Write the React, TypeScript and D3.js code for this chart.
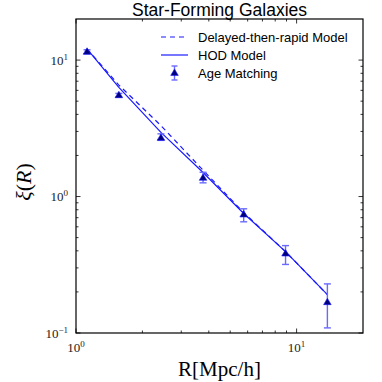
import React from 'react';
import * as d3 from 'd3';

// values
const radius = [1.122, 1.564, 2.427, 3.767, 5.757, 8.91, 13.79];
const ageMatching = [11.5, 5.52, 2.69, 1.37, 0.738, 0.382, 0.168];
const errLow = [11.1, 5.35, 2.58, 1.26, 0.653, 0.318, 0.109];
const errHigh = [11.9, 5.7, 2.88, 1.506, 0.813, 0.437, 0.229];
const hodModel = [12.1, 6.3, 2.95, 1.5, 0.751, 0.395, 0.191];
const delayedModel = [12.1, 6.56, 3.31, 1.56, 0.763, 0.395, 0.191];

const xMajor = [1, 10];
const xMajorExp = ['0', '1'];
const yMajor = [0.1, 1, 10];
const yMajorExp = ['\u22121', '0', '1'];

const W = 382;
const H = 382;
const margin = { top: 19, right: 19, bottom: 49, left: 76 };

const serif = '"Liberation Serif", "DejaVu Serif", serif';
const sans = '"Liberation Sans", Arial, sans-serif';

const App = () => {
  const x = d3.scaleLog().domain([1, 20]).range([margin.left, W - margin.right]);
  const y = d3.scaleLog().domain([0.1, 20]).range([H - margin.bottom, margin.top]);

  const x0 = margin.left;
  const x1 = W - margin.right;
  const y0 = H - margin.bottom;
  const y1 = margin.top;

  const pts = (vals: number[]) => radius.map((r, i) => [r, vals[i]] as [number, number]);
  const line = d3.line<[number, number]>().x((d) => x(d[0])).y((d) => y(d[1]));

  // minor ticks
  const xMinor: number[] = [];
  for (let k = 2; k <= 9; k++) xMinor.push(k, k * 10);
  const xMinorIn = xMinor.filter((v) => v < 20);
  const yMinor: number[] = [];
  for (let k = 2; k <= 9; k++) yMinor.push(k / 10, k, k * 10);
  const yMinorIn = yMinor.filter((v) => v < 20);

  const tri = (cx: number, cy: number, s: number) =>
    `M${cx},${cy - s} L${cx + s * 0.95},${cy + s * 0.6} L${cx - s * 0.95},${cy + s * 0.6} Z`;

  const blue = '#1a1aff';
  const errColor = '#6a6aff';
  const navy = '#00007a';

  return (
    <svg width={W} height={H} style={{ position: 'absolute', left: 0, top: 0, background: '#fff' }}>
      {/* title */}
      <text x={(x0 + x1) / 2} y={15.5} textAnchor="middle" fontFamily={sans} fontSize={17.5}>
        Star-Forming Galaxies
      </text>

      {/* ticks */}
      <g stroke="#000" strokeWidth={0.8}>
        {xMajor.map((v) => (
          <g key={'xm' + v}>
            <line x1={x(v)} x2={x(v)} y1={y0} y2={y0 - 4.5} />
            <line x1={x(v)} x2={x(v)} y1={y1} y2={y1 + 4.5} />
          </g>
        ))}
        {xMinorIn.map((v) => (
          <g key={'xn' + v}>
            <line x1={x(v)} x2={x(v)} y1={y0} y2={y0 - 2.5} />
            <line x1={x(v)} x2={x(v)} y1={y1} y2={y1 + 2.5} />
          </g>
        ))}
        {yMajor.map((v) => (
          <g key={'ym' + v}>
            <line x1={x0} x2={x0 + 4.5} y1={y(v)} y2={y(v)} />
            <line x1={x1} x2={x1 - 4.5} y1={y(v)} y2={y(v)} />
          </g>
        ))}
        {yMinorIn.map((v) => (
          <g key={'yn' + v}>
            <line x1={x0} x2={x0 + 2.5} y1={y(v)} y2={y(v)} />
            <line x1={x1} x2={x1 - 2.5} y1={y(v)} y2={y(v)} />
          </g>
        ))}
      </g>

      {/* tick labels */}
      <g fontFamily={serif} fontSize={13} fill="#222">
        {xMajor.map((v, i) => (
          <text key={'xl' + v} x={x(v)} y={352} textAnchor="middle">
            10<tspan dy={-5} fontSize={9}>{xMajorExp[i]}</tspan>
          </text>
        ))}
        {yMajor.map((v, i) => (
          <text key={'yl' + v} x={68} y={y(v) + 4.5} textAnchor="end">
            10<tspan dy={-5} fontSize={9}>{yMajorExp[i]}</tspan>
          </text>
        ))}
      </g>

      {/* axis labels */}
      <text x={(x0 + x1) / 2} y={376} textAnchor="middle" fontFamily={serif} fontSize={21}>
        R[Mpc/h]
      </text>
      <text transform={`translate(31,${182}) rotate(-90)`} textAnchor="middle" fontFamily={serif} fontSize={22}>
        <tspan fontStyle="italic">ξ</tspan>(<tspan fontStyle="italic">R</tspan>)
      </text>

      {/* models */}
      <path d={line(pts(delayedModel)) || ''} fill="none" stroke={blue} strokeWidth={1.2} strokeDasharray="5,4" />
      <path d={line(pts(hodModel)) || ''} fill="none" stroke={blue} strokeWidth={1.2} />

      {/* age matching with error bars */}
      <g>
        {radius.map((r, i) => (
          <g key={'e' + i} stroke={errColor} strokeWidth={1.4}>
            <line x1={x(r)} x2={x(r)} y1={y(errLow[i])} y2={y(errHigh[i])} />
            <line x1={x(r) - 3.5} x2={x(r) + 3.5} y1={y(errLow[i])} y2={y(errLow[i])} />
            <line x1={x(r) - 3.5} x2={x(r) + 3.5} y1={y(errHigh[i])} y2={y(errHigh[i])} />
          </g>
        ))}
        {radius.map((r, i) => (
          <path key={'t' + i} d={tri(x(r), y(ageMatching[i]), 4)} fill={navy} stroke={blue} strokeWidth={0.6} />
        ))}
      </g>

      {/* frame */}
      <rect x={x0} y={y1} width={x1 - x0} height={y0 - y1} fill="none" stroke="#000" strokeWidth={1.2} />

      {/* legend */}
      <g fontFamily={sans} fontSize={13}>
        <line x1={161} x2={188} y1={37} y2={37} stroke={blue} strokeWidth={1.2} strokeDasharray="5,4" />
        <text x={198} y={41.5}>Delayed-then-rapid Model</text>
        <line x1={161} x2={188} y1={55} y2={55} stroke={blue} strokeWidth={1.2} />
        <text x={198} y={59.5}>HOD Model</text>
        <g stroke={errColor} strokeWidth={1.4}>
          <line x1={174.5} x2={174.5} y1={66} y2={80} />
          <line x1={171.5} x2={177.5} y1={66} y2={66} />
          <line x1={171.5} x2={177.5} y1={80} y2={80} />
        </g>
        <path d={tri(174.5, 73, 4)} fill={navy} stroke={blue} strokeWidth={0.6} />
        <text x={198} y={77.5}>Age Matching</text>
      </g>
    </svg>
  );
};

export default App;
